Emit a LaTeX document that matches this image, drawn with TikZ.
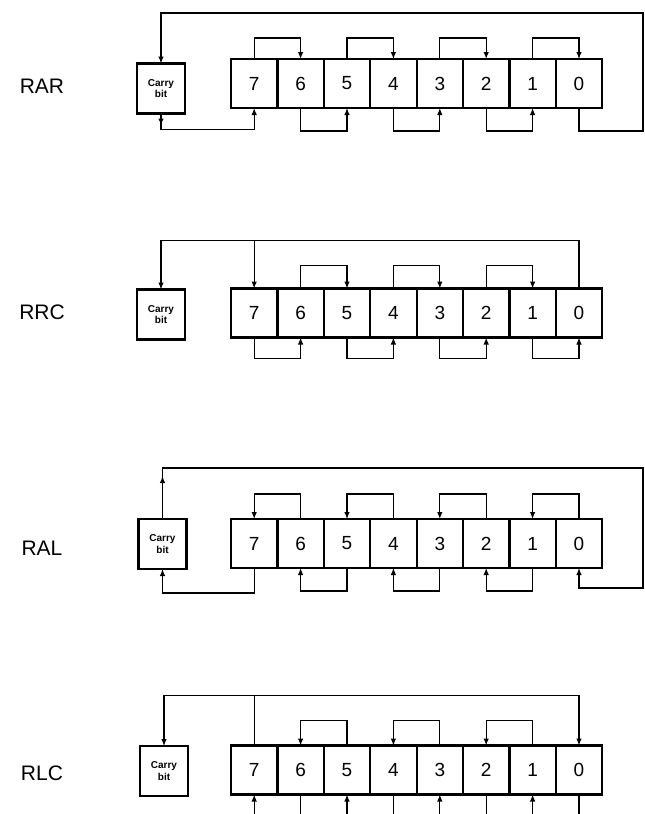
\documentclass[tikz,border=0pt]{standalone}
\usepackage{fontspec}
\setmainfont{Liberation Sans}
\usetikzlibrary{arrows.meta}
\begin{document}
\begin{tikzpicture}[
    x=1pt, y=-1pt,
    every node/.style={font=\fontsize{19}{21}\selectfont},
    cell/.style={draw, line width=2.2pt, minimum width=46.4pt, minimum height=49pt,
                 inner sep=0pt, outer sep=0pt},
    carrybox/.style={draw, line width=2.8pt, minimum width=48pt, minimum height=50pt,
                 inner sep=0pt, outer sep=0pt, align=center,
                 font=\fontsize{10}{11.5}\selectfont\bfseries},
    wire/.style={line width=1.1pt},
    arr/.style={wire, -{Latex[length=7pt,width=5.5pt]}},
    opname/.style={font=\fontsize{21}{23}\selectfont}
]
\useasboundingbox (0,0) rectangle (645,814);

% --- Register: Bits 7..0, Zellenmitten ab x=254 im Abstand 46.4 ---
\foreach \r/\y in {rar/83.5, rrc/313, ral/543.5, rlc/770}
  \foreach \b [count=\i from 0] in {7,6,5,4,3,2,1,0}
    \node[cell] (\r\b) at (254.2+46.4*\i,\y) {\b};

% --- Carry-Bits und Befehlsnamen ---
\node[carrybox] (rarC) at (161,88.5) {Carry\\bit};
\node[carrybox] (rrcC) at (161,314.5) {Carry\\bit};
\node[carrybox] (ralC) at (162.5,544) {Carry\\bit};
\node[carrybox] (rlcC) at (164,771) {Carry\\bit};

\node[opname] (rarL) at (42,86)  {RAR};
\node[opname] (rrcL) at (42,312) {RRC};
\node[opname] (ralL) at (42,548) {RAL};
\node[opname] (rlcL) at (42,773) {RLC};

% --- RAR: Bit n -> Bit n-1, Bit 0 -> Carry, Carry -> Bit 7 ---
\foreach \a/\b in {7/6,5/4,3/2,1/0}
  \draw[arr] (rar\a.north) -- ++(0,-21) -| (rar\b.north);
\foreach \a/\b in {6/5,4/3,2/1}
  \draw[arr] (rar\a.south) -- ++(0,23) -| (rar\b.south);
\coordinate (rarR) at (643,13);
\draw[arr] (rar0.south) -- ++(0,23) -| (rarR) -| (rarC.north);
\draw[arr] (rarC.south) -- ++(0,16) -| (rar7.south);
\draw[arr] (rarC.south) -- ++(0,12);

% --- RRC: Bit n -> Bit n-1, Bit 0 -> Carry und Bit 7 ---
\foreach \a/\b in {6/5,4/3,2/1}
  \draw[arr] (rrc\a.north) -- ++(0,-23) -| (rrc\b.north);
\foreach \a/\b in {7/6,5/4,3/2,1/0}
  \draw[arr] (rrc\a.south) -- ++(0,21) -| (rrc\b.south);
\draw[arr] (rrc0.north) -- ++(0,-48) coordinate (rrcT) -| (rrcC.north);
\draw[arr] (rrc7.north |- rrcT) -- (rrc7.north);

% --- RAL: Bit n -> Bit n+1, Bit 7 -> Carry, Carry -> Bit 0 ---
\foreach \a/\b in {6/7,4/5,2/3,0/1}
  \draw[arr] (ral\a.north) -- ++(0,-25) -| (ral\b.north);
\foreach \a/\b in {5/6,3/4,1/2}
  \draw[arr] (ral\a.south) -- ++(0,23) -| (ral\b.south);
\coordinate (ralR) at (643,588);
\draw[arr] (ralC.north) -- ++(0,-51) -| (ralR) -| (ral0.south);
\draw[arr] (ralC.north) -- ++(0,-43);
\draw[arr] (ral7.south) -- ++(0,25) -| (ralC.south);

% --- RLC: Bit n -> Bit n+1, Bit 7 -> Carry und Bit 0 ---
\foreach \a/\b in {5/6,3/4,1/2}
  \draw[arr] (rlc\a.north) -- ++(0,-25) -| (rlc\b.north);
\draw[wire] (rlc7.north) -- ++(0,-50) coordinate (rlcT);
\draw[arr] (rlcT) -| (rlcC.north);
\draw[arr] (rlcT) -| (rlc0.north);
\coordinate (bot) at (0,814);
\foreach \b in {7,5,3,1}
  \draw[arr] (rlc\b.south |- bot) -- (rlc\b.south);
\foreach \b in {6,4,2,0}
  \draw[wire] (rlc\b.south) -- (rlc\b.south |- bot);

\end{tikzpicture}
\end{document}
